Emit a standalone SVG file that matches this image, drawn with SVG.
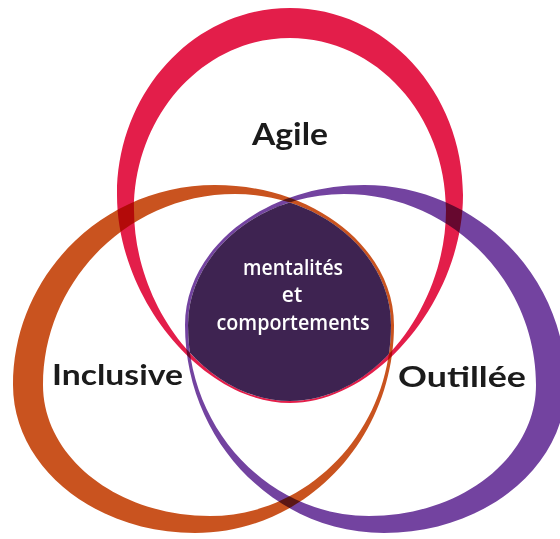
<svg xmlns="http://www.w3.org/2000/svg" width="560" height="539" viewBox="0 0 560 539">
  <defs>
    <path id="orangeInner" d="M 235 194 C 129 194, 43 280.7, 43 385 C 43 457.3, 117.8 516, 210 516 C 308.8 516, 391 430.4, 391 325 C 391 254, 320.6 194, 235 194 Z"/>
    <path id="redInner" d="M 290 38 C 203.9 38, 134 115, 134 210 C 134 305.5, 205 401, 290 401 C 375 401, 446 305.5, 446 210 C 446 115, 376.1 38, 290 38 Z"/>
    <clipPath id="clipOrange"><use href="#orangeInner"/></clipPath>
    <clipPath id="clipPurple"><use href="#orangeInner" transform="translate(579,0) scale(-1,1)"/></clipPath>
    <style>
      .ring { fill-rule: evenodd; mix-blend-mode: multiply; }
      .label { font-family: Lato, "Liberation Sans", sans-serif; font-weight: 700; fill: #1b1b1b; text-anchor: middle; }
      .inner { font-family: "Open Sans", "Noto Sans", sans-serif; font-weight: 600; fill: #ffffff; text-anchor: middle; font-size: 21px; }
    </style>
  </defs>
  <rect width="560" height="539" fill="#ffffff"/>
  <g style="isolation:isolate">
    <g id="ring-inclusive">
      <path class="ring" fill="#C9531F" d="M 215 185 C 103.5 185, 13 275, 13 385 C 13 466.7, 94.5 533, 195 533 C 305 533, 394 440, 394 325 C 394 248.3, 313.8 185, 215 185 Z M 235 194 C 129 194, 43 280.7, 43 385 C 43 457.3, 117.8 516, 210 516 C 308.8 516, 391 430.4, 391 325 C 391 254, 320.6 194, 235 194 Z"/>
    </g>
    <g id="ring-outillee" transform="translate(579,0) scale(-1,1)">
      <path class="ring" fill="#7343A0" d="M 215 185 C 103.5 185, 13 275, 13 385 C 13 466.7, 94.5 533, 195 533 C 305 533, 394 440, 394 325 C 394 248.3, 313.8 185, 215 185 Z M 235 194 C 129 194, 43 280.7, 43 385 C 43 457.3, 117.8 516, 210 516 C 308.8 516, 391 430.4, 391 325 C 391 254, 320.6 194, 235 194 Z"/>
    </g>
    <g id="ring-agile">
      <path class="ring" fill="#E31E4A" d="M 290 8 C 194.5 8, 117 91.8, 117 195 C 117 299, 203.5 403, 290 403 C 376.5 403, 463 299, 463 195 C 463 91.8, 385.5 8, 290 8 Z M 290 38 C 203.9 38, 134 115, 134 210 C 134 305.5, 205 401, 290 401 C 375 401, 446 305.5, 446 210 C 446 115, 376.1 38, 290 38 Z"/>
    </g>
  </g>
  <g id="center">
    <g clip-path="url(#clipOrange)">
      <g clip-path="url(#clipPurple)">
        <use href="#redInner" fill="#3E2351"/>
      </g>
    </g>
    <text class="inner" x="293" y="275" textLength="100" lengthAdjust="spacingAndGlyphs">mentalités</text>
    <text class="inner" x="292" y="302">et</text>
    <text class="inner" x="293" y="330" textLength="153" lengthAdjust="spacingAndGlyphs">comportements</text>
  </g>
  <g id="labels">
    <text class="label" x="290" y="145" font-size="30" textLength="76" lengthAdjust="spacingAndGlyphs">Agile</text>
    <text class="label" x="117.5" y="385" font-size="28" textLength="131" lengthAdjust="spacingAndGlyphs">Inclusive</text>
    <text class="label" x="462" y="387" font-size="29" textLength="128" lengthAdjust="spacingAndGlyphs">Outillée</text>
  </g>
</svg>
